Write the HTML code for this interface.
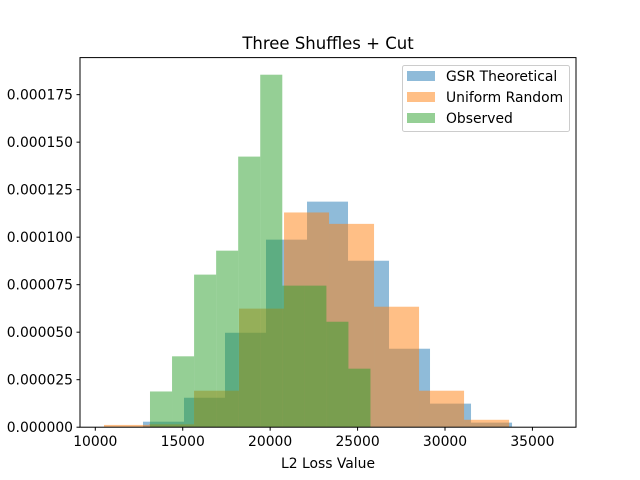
<!DOCTYPE html>
<html><head><meta charset="utf-8"><style>
body{margin:0;background:#fff}
svg{display:block;font-family:"DejaVu Sans","Liberation Sans",sans-serif}
</style></head><body>
<svg id="chart" width="640" height="480" viewBox="0 0 640 480">
<text x="328" y="49" font-size="16.5" text-anchor="middle">Three Shuffles + Cut</text>
<g id="bars"></g>
<g id="xticks"></g>
<g id="yticks"></g>
<rect x="80" y="57.6" width="496" height="369.6" fill="none" stroke="#000" stroke-width="1"/>
<text x="328" y="468" font-size="13.9" text-anchor="middle">L2 Loss Value</text>
<g>
<rect x="402.5" y="65.5" width="167" height="66" rx="2" fill="#fff" fill-opacity="0.8" stroke="#ccc"/>
<g><rect x="407" y="71" width="28" height="10" fill="#1f77b4" fill-opacity="0.5"/><text x="446" y="81" font-size="13.9">GSR Theoretical</text></g>
<g><rect x="407" y="92" width="28" height="10" fill="#ff7f0e" fill-opacity="0.5"/><text x="446" y="102" font-size="13.9">Uniform Random</text></g>
<g><rect x="407" y="113" width="28" height="10" fill="#2ca02c" fill-opacity="0.5"/><text x="446" y="123" font-size="13.9">Observed</text></g>
</g>
</svg>
<script>
const gsrStart = 12728, gsrWidth = 2345;
const gsrValues = [2.9e-6, 1.55e-5, 4.97e-5, 9.87e-5, 1.187e-4, 8.76e-5, 4.13e-5, 1.24e-5, 2.4e-6];
const uniStart = 10498, uniWidth = 2574;
const uniValues = [1.2e-6, 1.5e-6, 1.92e-5, 6.24e-5, 1.13e-4, 1.07e-4, 6.34e-5, 1.92e-5, 3.9e-6];
const obsStart = 13128, obsWidth = 1261;
const obsValues = [1.88e-5, 3.73e-5, 8.03e-5, 9.29e-5, 1.424e-4, 1.855e-4, 7.45e-5, 7.45e-5, 5.55e-5, 3.08e-5];
const xTicks = [10000, 15000, 20000, 25000, 30000, 35000];
const yTicks = [0, 0.000025, 0.00005, 0.000075, 0.0001, 0.000125, 0.00015, 0.000175];
const yTickLabels = ["0.000000","0.000025","0.000050","0.000075","0.000100","0.000125","0.000150","0.000175"];

const NS = "http://www.w3.org/2000/svg";
const xMin = 9125, xMax = 37492, yMin = 0, yMax = 0.0001945;
const X = v => 80 + (v - xMin) / (xMax - xMin) * 496;
const Y = v => 427.2 - (v - yMin) / (yMax - yMin) * 369.6;

const bars = document.getElementById('bars');
function drawSeries(start, width, vals, color, name) {
  vals.forEach((v, i) => {
    const r = document.createElementNS(NS, 'rect');
    const x0 = X(start + i * width), x1 = X(start + (i + 1) * width);
    r.setAttribute('x', x0); r.setAttribute('width', x1 - x0);
    r.setAttribute('y', Y(v)); r.setAttribute('height', Y(0) - Y(v));
    r.setAttribute('fill', color); r.setAttribute('fill-opacity', '0.5');
    
    
    bars.appendChild(r);
  });
}
drawSeries(gsrStart, gsrWidth, gsrValues, '#1f77b4', 'gsr');
drawSeries(uniStart, uniWidth, uniValues, '#ff7f0e', 'uniform');
drawSeries(obsStart, obsWidth, obsValues, '#2ca02c', 'observed');

const xg = document.getElementById('xticks');
xTicks.forEach(t => {
  const x = X(t);
  const l = document.createElementNS(NS, 'line');
  l.setAttribute('x1', x); l.setAttribute('x2', x); l.setAttribute('y1', 427.2); l.setAttribute('y2', 430.7);
  l.setAttribute('stroke', '#000');
  
  
  xg.appendChild(l);
  const tx = document.createElementNS(NS, 'text');
  tx.setAttribute('x', x); tx.setAttribute('y', 446); tx.setAttribute('font-size', '13.9'); tx.setAttribute('text-anchor', 'middle');
  tx.textContent = t;
  
  
  xg.appendChild(tx);
});
const yg = document.getElementById('yticks');
yTicks.forEach((t, i) => {
  const y = Y(t);
  const l = document.createElementNS(NS, 'line');
  l.setAttribute('x1', 76.5); l.setAttribute('x2', 80); l.setAttribute('y1', y); l.setAttribute('y2', y);
  l.setAttribute('stroke', '#000');
  
  
  yg.appendChild(l);
  const tx = document.createElementNS(NS, 'text');
  tx.setAttribute('x', 73); tx.setAttribute('y', y + 5); tx.setAttribute('font-size', '13.9'); tx.setAttribute('text-anchor', 'end');
  tx.textContent = yTickLabels[i];
  
  
  yg.appendChild(tx);
});
</script>
</body></html>
